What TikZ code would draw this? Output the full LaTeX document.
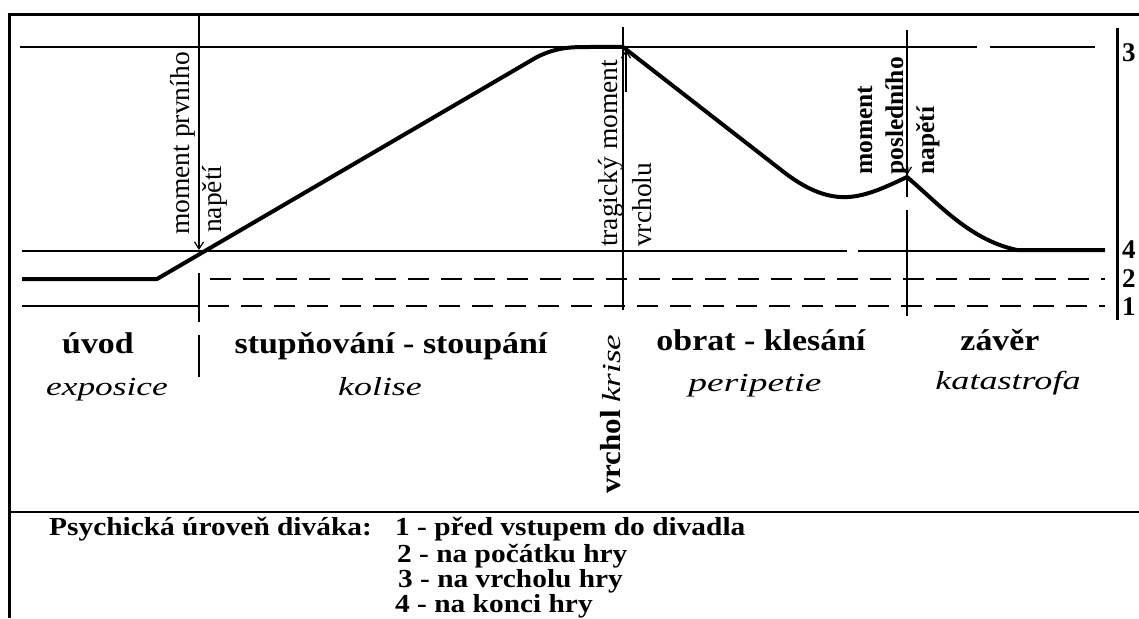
\documentclass[tikz,border=0pt]{standalone}
\usepackage{fontspec}
\setmainfont{Liberation Serif}
\usetikzlibrary{arrows.meta}
\begin{document}
\begin{tikzpicture}[x=1pt,y=-1pt,
  thinln/.style={line width=1.1pt},
  dashln/.style={line width=1.1pt, dash pattern=on 21pt off 12pt},
  plot/.style={line width=4pt, line join=round},
  frameln/.style={line width=3pt},
  arr/.style={line width=1.1pt, -{Straight Barb[length=7pt,width=9pt,line width=1.2pt]}},
  sec/.style={inner sep=0pt, anchor=base, font=\fontsize{30}{34}\selectfont\bfseries},
  lat/.style={inner sep=0pt, anchor=base, font=\fontsize{26}{30}\selectfont\itshape},
  vtxt/.style={inner sep=0pt, anchor=base west, rotate=90, font=\fontsize{27.5}{30}\selectfont},
  vbold/.style={inner sep=0pt, anchor=base west, rotate=90, font=\fontsize{25.5}{30}\selectfont\bfseries},
  lvl/.style={inner sep=0pt, anchor=base west, font=\fontsize{27}{30}\selectfont\bfseries},
  leg/.style={inner sep=0pt, anchor=base west, font=\fontsize{26}{28}\selectfont\bfseries}
]
\useasboundingbox (0,0) rectangle (1139,618);
% frame
\draw[frameln] (7.5,15) -- (1139,15);
\draw[frameln] (9,13.5) -- (9,618);
\draw[line width=1.3pt] (9,512) -- (1139,512);
% level lines
\draw[thinln] (20,47) -- (977,47);
\draw[thinln] (990,47) -- (1095,47);
\draw[thinln] (22,251) -- (847,251);
\draw[thinln] (858,251) -- (1100,251);
\draw[thinln] (22,306) -- (199,306);
\draw[dashln] (208,306) -- (1105,306);
\draw[dashln] (210,279) -- (1105,279);
% vertical lines
\coordinate (a1top) at (199,15);
\coordinate (a1s) at (199,222);
\coordinate (a1e) at (199,250);
\draw[thinln] (a1top) -- (a1s);
\draw[arr] (a1s) -- (a1e);
\draw[thinln] (199,273) -- (199,322);
\draw[thinln] (199,335) -- (199,377);
\draw[thinln] (623,27) -- (623,310);
\coordinate (a2s) at (626,92);
\coordinate (a2e) at (626,50);
\draw[arr] (a2s) -- (a2e);
\draw[thinln] (907,30) -- (907,197);
\draw[thinln] (907,210) -- (907,316);
\coordinate (a3s) at (907,155);
\coordinate (a3e) at (907,175);
\draw[arr] (a3s) -- (a3e);
% right axis
\draw[frameln] (1117,28) -- (1117,320);
\node[lvl] (l3) at (1122,62) {3};
\node[lvl] (l4) at (1122,258) {4};
\node[lvl] (l2) at (1122,287) {2};
\node[lvl] (l1) at (1122,315) {1};
% curve
\draw[plot] (22,279) -- (157,279) -- (537,57)
  .. controls (557,47) and (572,47) .. (590,47) -- (623,47)
  -- (785,173) .. controls (810,192) and (830,198) .. (848,197)
  .. controls (868,196) and (890,185) .. (907,177)
  .. controls (940,205) and (970,240) .. (1017,250) -- (1105,250);
% vertical labels
\node[vtxt] (mp1) at (189,235) {moment prvního};
\node[vtxt] (mp2) at (221,233) {napětí};
\node[vtxt] (tm1) at (617,247) {tragický moment};
\node[vtxt] (tm2) at (651,247) {vrcholu};
\node[vbold] (ml1) at (872,175) {moment};
\node[vbold] (ml2) at (903,175) {posledního};
\node[vbold] (ml3) at (934,175) {napětí};
\node[inner sep=0pt, anchor=base west, rotate=90, font=\fontsize{29}{32}\selectfont] (vk) at (620,494) {{\bfseries\scalebox{1.07}[1]{vrchol}} \fontsize{26}{30}\selectfont\itshape\scalebox{1.35}[1]{krise}};
% section labels
\node[sec] (s1) at (98,353) {\scalebox{1.13}[1]{úvod}};
\node[sec] (s2) at (391,353) {\scalebox{1.13}[1]{stupňování - stoupání}};
\node[sec] (s3) at (761,350) {\scalebox{1.13}[1]{obrat - klesání}};
\node[sec] (s4) at (1000,350) {\scalebox{1.13}[1]{závěr}};
\node[lat] (t1) at (107,395) {\scalebox{1.36}[1]{exposice}};
\node[lat] (t2) at (380,395) {\scalebox{1.38}[1]{kolise}};
\node[lat] (t3) at (755,391) {\scalebox{1.44}[1]{peripetie}};
\node[lat] (t4) at (1008,389) {\scalebox{1.39}[1]{katastrofa}};
% legend
\node[leg] (lg) at (49,535) {\scalebox{1.13}[1]{Psychická úroveň diváka:}};
\node[leg] (lg1) at (395,535) {\scalebox{1.13}[1]{1 - před vstupem do divadla}};
\node[leg] (lg2) at (397,562) {\scalebox{1.13}[1]{2 - na počátku hry}};
\node[leg] (lg3) at (398,587) {\scalebox{1.13}[1]{3 - na vrcholu hry}};
\node[leg] (lg4) at (395,612) {\scalebox{1.13}[1]{4 - na konci hry}};
\end{tikzpicture}
\end{document}
